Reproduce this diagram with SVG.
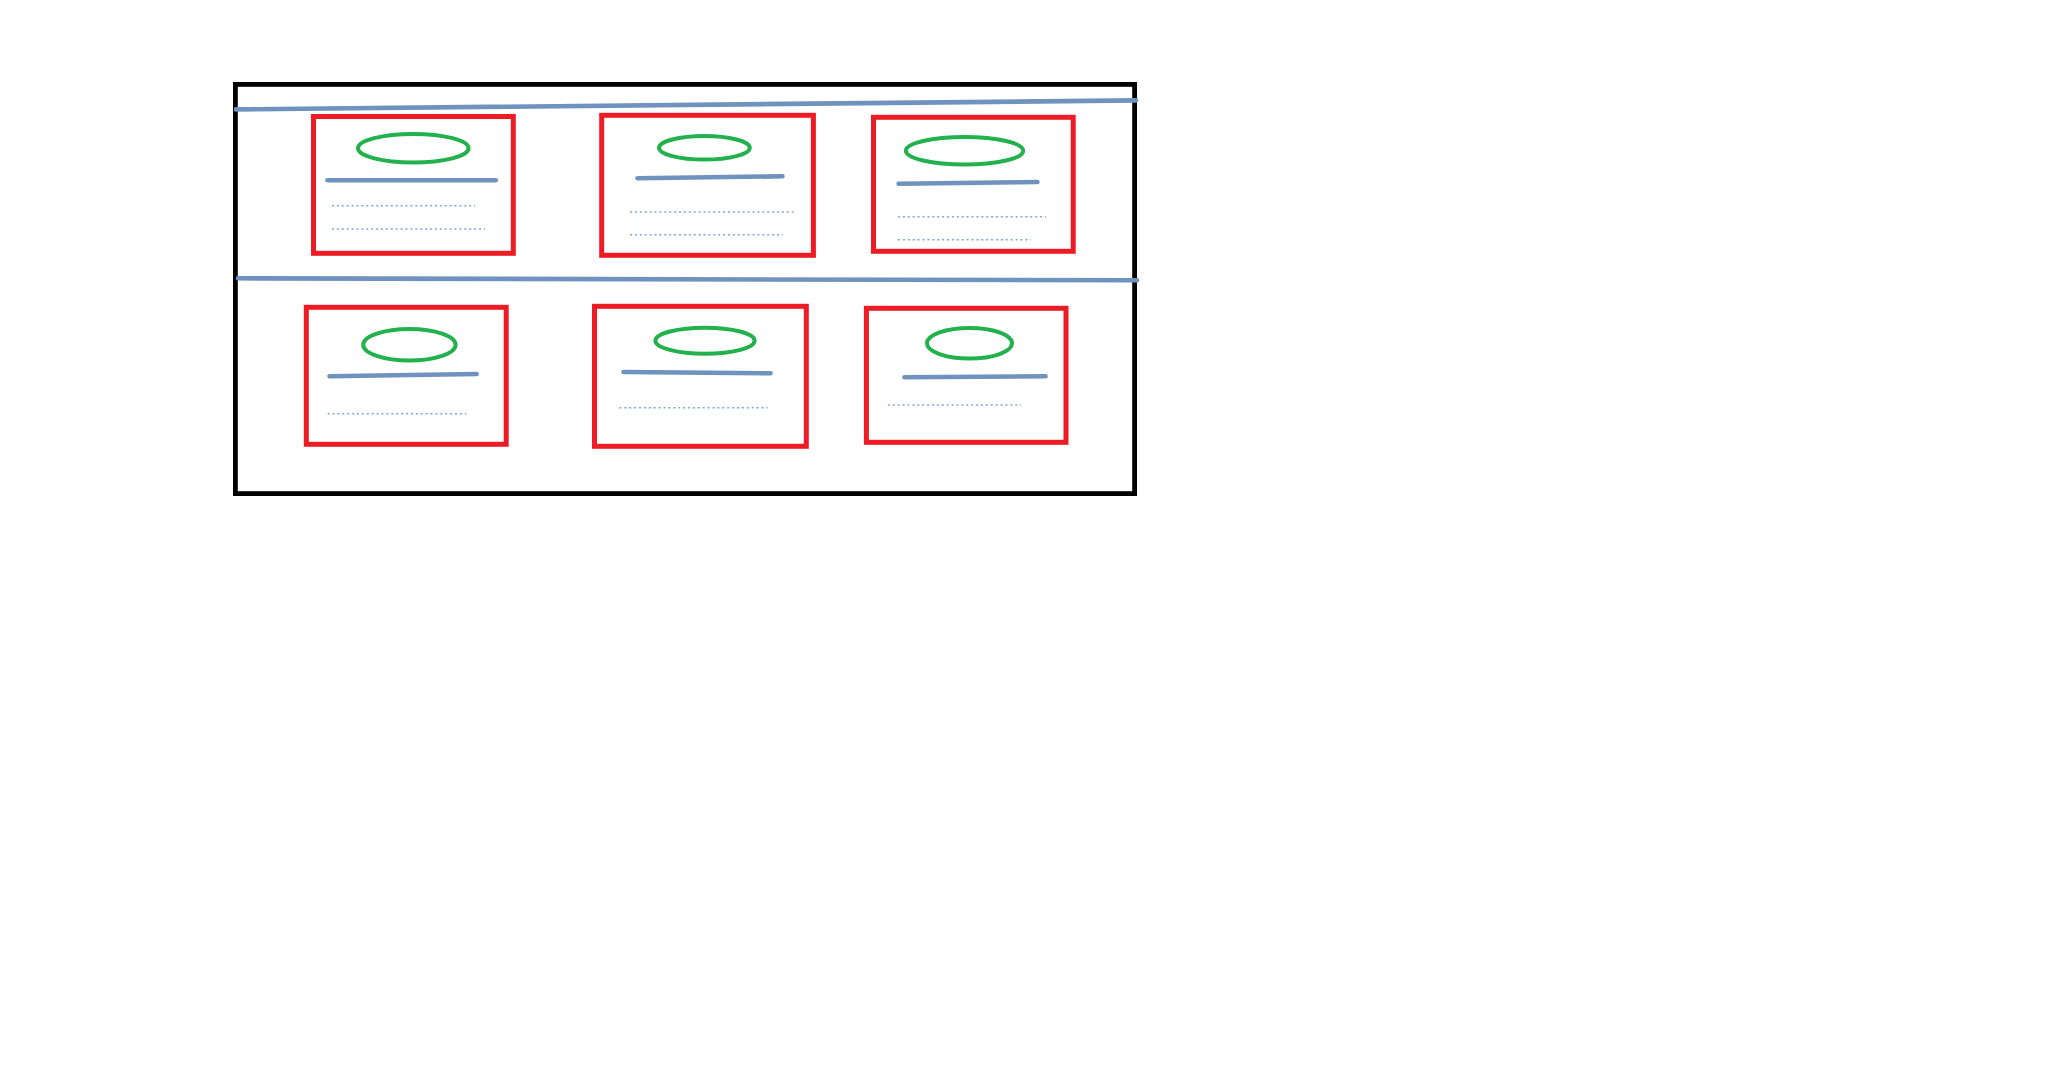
<svg xmlns="http://www.w3.org/2000/svg" width="2066" height="1070" viewBox="0 0 2066 1070">
<style>
.frame{fill:none;stroke:#000;stroke-width:4.8}
.box{fill:none;stroke:#ED1C24;stroke-width:5}
.oval{fill:none;stroke:#22B14C;stroke-width:4}
.bar{stroke:#7092BE;stroke-width:4.6;stroke-linecap:round}
.sep{stroke:#7092BE;stroke-width:4.6;stroke-linecap:round}
.dots{stroke:#7EA6DA;stroke-width:1.6;stroke-dasharray:2 2.9}
</style>
<rect width="2066" height="1070" fill="#fff"/>
<g id="container">
<rect class="frame" x="235.4" y="84.4" width="899.2" height="409.2"/>
</g>
<g id="connectors">
<line class="sep" x1="236" y1="109.4" x2="1136" y2="100.4"/>
<line class="sep" x1="238" y1="278.3" x2="1137" y2="280.3"/>
</g>
<g id="node1">
<rect class="box" x="313.5" y="116.5" width="199.8" height="136.8"/>
<ellipse class="oval" cx="413.3" cy="148.3" rx="55.3" ry="14.3"/>
<line class="bar" x1="327.5" y1="180.3" x2="495.8" y2="180.3"/>
<line class="dots" x1="332" y1="205.7" x2="475" y2="205.7"/>
<line class="dots" x1="332" y1="229" x2="485" y2="229"/>
</g>
<g id="node2">
<rect class="box" x="601.7" y="115.3" width="211.7" height="140"/>
<ellipse class="oval" cx="704.4" cy="147.8" rx="45.4" ry="11.8"/>
<line class="bar" x1="637.5" y1="178.3" x2="782.5" y2="176.3"/>
<line class="dots" x1="630" y1="212" x2="793.3" y2="212"/>
<line class="dots" x1="630" y1="234.7" x2="782.7" y2="234.7"/>
</g>
<g id="node3">
<rect class="box" x="873.5" y="117.3" width="199.7" height="134"/>
<ellipse class="oval" cx="964.6" cy="150.8" rx="58.7" ry="13.8"/>
<line class="bar" x1="898.6" y1="183.7" x2="1037.4" y2="182"/>
<line class="dots" x1="898" y1="216.7" x2="1046" y2="216.7"/>
<line class="dots" x1="898" y1="239.7" x2="1031" y2="239.7"/>
</g>
<g id="node4">
<rect class="box" x="306.3" y="307.3" width="199.9" height="137"/>
<ellipse class="oval" cx="409.4" cy="344.8" rx="46.2" ry="15.8"/>
<line class="bar" x1="329.5" y1="376.3" x2="476.7" y2="374"/>
<line class="dots" x1="327.6" y1="413.7" x2="466.3" y2="413.7"/>
</g>
<g id="node5">
<rect class="box" x="594.5" y="306.3" width="211.8" height="140"/>
<ellipse class="oval" cx="705" cy="340.7" rx="49.6" ry="13"/>
<line class="bar" x1="623.5" y1="372" x2="770.5" y2="373.3"/>
<line class="dots" x1="619.4" y1="407.7" x2="767.6" y2="407.7"/>
</g>
<g id="node6">
<rect class="box" x="866.4" y="308.3" width="199.6" height="134"/>
<ellipse class="oval" cx="969.5" cy="343.3" rx="42.5" ry="15.3"/>
<line class="bar" x1="904.4" y1="377.3" x2="1045.6" y2="376.3"/>
<line class="dots" x1="887.9" y1="405" x2="1021.1" y2="405"/>
</g>
</svg>
